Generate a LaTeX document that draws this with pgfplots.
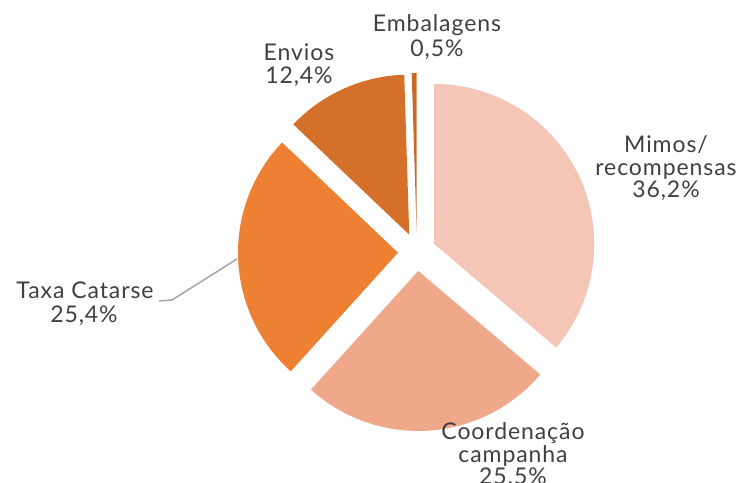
\documentclass[border=0pt]{standalone}
\usepackage{pgfplots}
\usepackage{pgfplotstable}
\pgfplotsset{compat=1.18}
\usepackage{fontspec}
\setmainfont{Lato}[LetterSpace=4]
\definecolor{cMimos}{RGB}{245,198,183}
\definecolor{cCoord}{RGB}{240,168,139}
\definecolor{cTaxa}{RGB}{237,128,51}
\definecolor{cEnvios}{RGB}{212,112,42}
\definecolor{cEmb}{RGB}{200,105,40}
\definecolor{txt}{RGB}{64,64,64}
\definecolor{lead}{RGB}{165,165,165}

\pgfplotstableread{
value color
36.2 cMimos
25.5 cCoord
25.4 cTaxa
12.4 cEnvios
0.5 cEmb
}\piedata

\newcommand\lbl[3]{\node[anchor=base,inner sep=0pt,text=txt,font=\fontsize{23bp}{23bp}\selectfont] at (axis cs:#1,#2) {#3};}

\begin{document}
\begin{tikzpicture}
\useasboundingbox (0,0) rectangle (743bp,483bp);
\clip (0,0) rectangle (743bp,483bp);
\begin{axis}[at={(0,0)},anchor=south west,scale only axis,width=743bp,height=483bp,
  xmin=0,xmax=743,ymin=0,ymax=483,hide axis,clip=false]
\gdef\cum{0}
\pgfplotsinvokeforeach{0,...,4}{
  \pgfplotstablegetelem{#1}{value}\of\piedata \let\val\pgfplotsretval
  \pgfplotstablegetelem{#1}{color}\of\piedata \let\col\pgfplotsretval
  \pgfmathsetmacro\aA{90-3.6*\cum}
  \pgfmathsetmacro\aB{90-3.6*(\cum+\val)}
  \pgfmathsetmacro\aM{(\aA+\aB)/2}
  \pgfmathsetmacro\vx{417+19*cos(\aM)}
  \pgfmathsetmacro\vy{231+19*sin(\aM)}
  \pgfmathsetmacro\newcum{\cum+\val}
  \xdef\cum{\newcum}
  \edef\temp{\noexpand\fill[\col] (axis cs:\vx,\vy) -- ++(\aA:160bp) arc[start angle=\aA, end angle=\aB, radius=160bp] -- cycle;}
  \temp
}
\draw[lead,line width=1.5bp] (axis cs:159,182) -- (axis cs:172,183) -- (axis cs:237,224);
\lbl{437}{451}{Embalagens}
\lbl{437}{426}{0,5\%}
\lbl{299}{422}{Envios}
\lbl{299}{399}{12,4\%}
\lbl{666}{330}{Mimos/}
\lbl{666}{307}{recompensas}
\lbl{666}{285}{36,2\%}
\lbl{85}{184}{Taxa Catarse}
\lbl{84}{160}{25,4\%}
\lbl{513}{43}{Coordenação}
\lbl{513}{21}{campanha}
\lbl{513}{-1}{25.5\%}
\end{axis}
\end{tikzpicture}
\end{document}
